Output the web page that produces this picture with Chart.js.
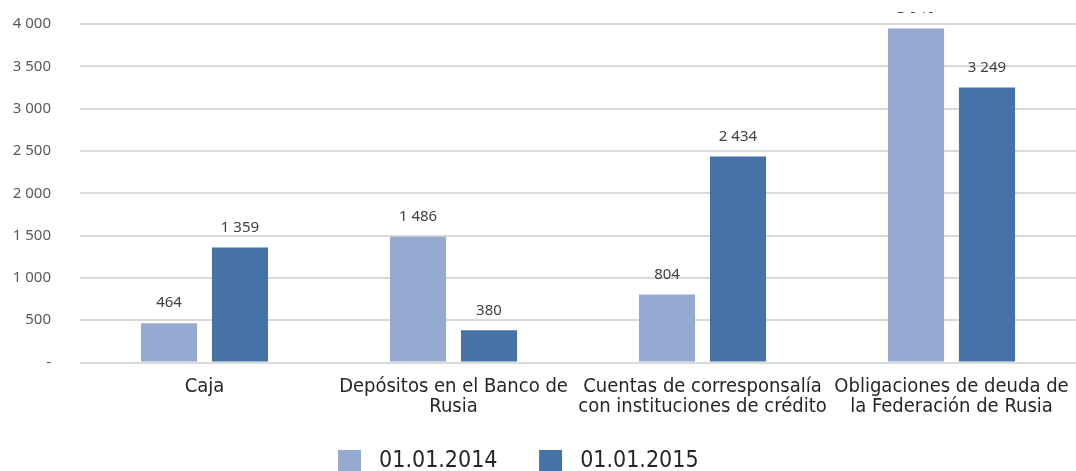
<!DOCTYPE html>
<html>
<head>
<meta charset="utf-8">
<script src="https://cdn.jsdelivr.net/npm/chart.js@4"></script>
<style>
  html, body { margin: 0; padding: 0; background: #fff; overflow: hidden; }
  #wrap { position: absolute; left: 0; top: 0; width: 1076px; height: 483px; }
</style>
</head>
<body>
<div id="wrap"><canvas id="bar-chart"></canvas></div>
<script>
// Data
const categories = [
  'Caja',
  ['Depósitos en el Banco de', 'Rusia'],
  ['Cuentas de corresponsalía', 'con instituciones de crédito'],
  ['Obligaciones de deuda de', 'la Federación de Rusia']
];
const series2014 = [464, 1486, 804, 3946];
const series2015 = [1359, 380, 2434, 3249];
const seriesNames = ['01.01.2014', '01.01.2015'];

const narrow = "'Liberation Sans Narrow', 'DejaVu Sans Condensed', sans-serif";

// thousands with a space, zero shown as "-"
function fmt(v) {
  if (v === 0) return '-';
  return String(v).replace(/\B(?=(\d{3})+(?!\d))/g, ' ');
}

// value labels above the bars (clipped near the top like the original)
const valueLabels = {
  id: 'valueLabels',
  afterDatasetsDraw(chart) {
    const ctx = chart.ctx;
    ctx.save();
    ctx.beginPath();
    ctx.rect(0, 12, chart.width, chart.height);
    ctx.clip();
    ctx.font = '15px "Noto Sans"';
    ctx.fillStyle = '#404040';
    ctx.textAlign = 'center';
    ctx.textBaseline = 'middle';
    chart.data.datasets.forEach((ds, i) => {
      chart.getDatasetMeta(i).data.forEach((bar, j) => {
        ctx.fillText(fmt(ds.data[j]), bar.x, bar.y - 20);
      });
    });
    ctx.restore();
  }
};

const barchart = document.getElementById('bar-chart');
if (barchart) {
  new Chart(barchart.getContext('2d'), {
    type: 'bar',
    data: {
      labels: categories,
      datasets: [
        {
          label: seriesNames[0],
          data: series2014,
          backgroundColor: '#95AAD0'
        },
        {
          label: seriesNames[1],
          data: series2015,
          backgroundColor: '#4573A7'
        }
      ]
    },
    options: {
      responsive: true,
      maintainAspectRatio: false,
      animation: false,
      layout: { padding: { top: 24, right: 0, left: 0, bottom: 0 } },
      datasets: {
        bar: { categoryPercentage: 0.57, barPercentage: 0.79 }
      },
      scales: {
        x: {
          grid: { display: false, drawTicks: false },
          border: { display: false },
          afterFit: (axis) => {
            axis.paddingLeft = 0;
            axis.paddingRight = 0;
            axis.height = 52.5;
          },
          ticks: {
            autoSkip: false,
            color: '#262626',
            padding: 14,
            maxRotation: 0,
            font: { family: narrow, size: 20, lineHeight: 1 }
          }
        },
        y: {
          min: 0,
          max: 4000,
          border: { display: false },
          grid: { color: '#d9d9d9', lineWidth: 2, drawTicks: false },
          afterFit: (axis) => {
            axis.width = 80;
            axis.paddingTop = 0;
            axis.paddingBottom = 0;
          },
          ticks: {
            stepSize: 500,
            padding: 29,
            color: '#595959',
            font: { family: 'Noto Sans', size: 15 },
            callback: (v) => fmt(v)
          }
        }
      },
      plugins: {
        tooltip: { enabled: false },
        legend: {
          position: 'bottom',
          labels: {
            boxWidth: 23,
            boxHeight: 23,
            padding: 35,
            color: '#262626',
            font: { family: narrow, size: 23 },
            // a bit of room after the boxes, and the whole row nudged left
            generateLabels(chart) {
              const items = Chart.defaults.plugins.legend.labels.generateLabels(chart);
              items.forEach((it, i) => {
                it.text = ' ' + it.text + (i === items.length - 1 ? ' '.repeat(6) : ' ');
              });
              return items;
            }
          }
        }
      }
    },
    plugins: [valueLabels]
  });
}
</script>
</body>
</html>
